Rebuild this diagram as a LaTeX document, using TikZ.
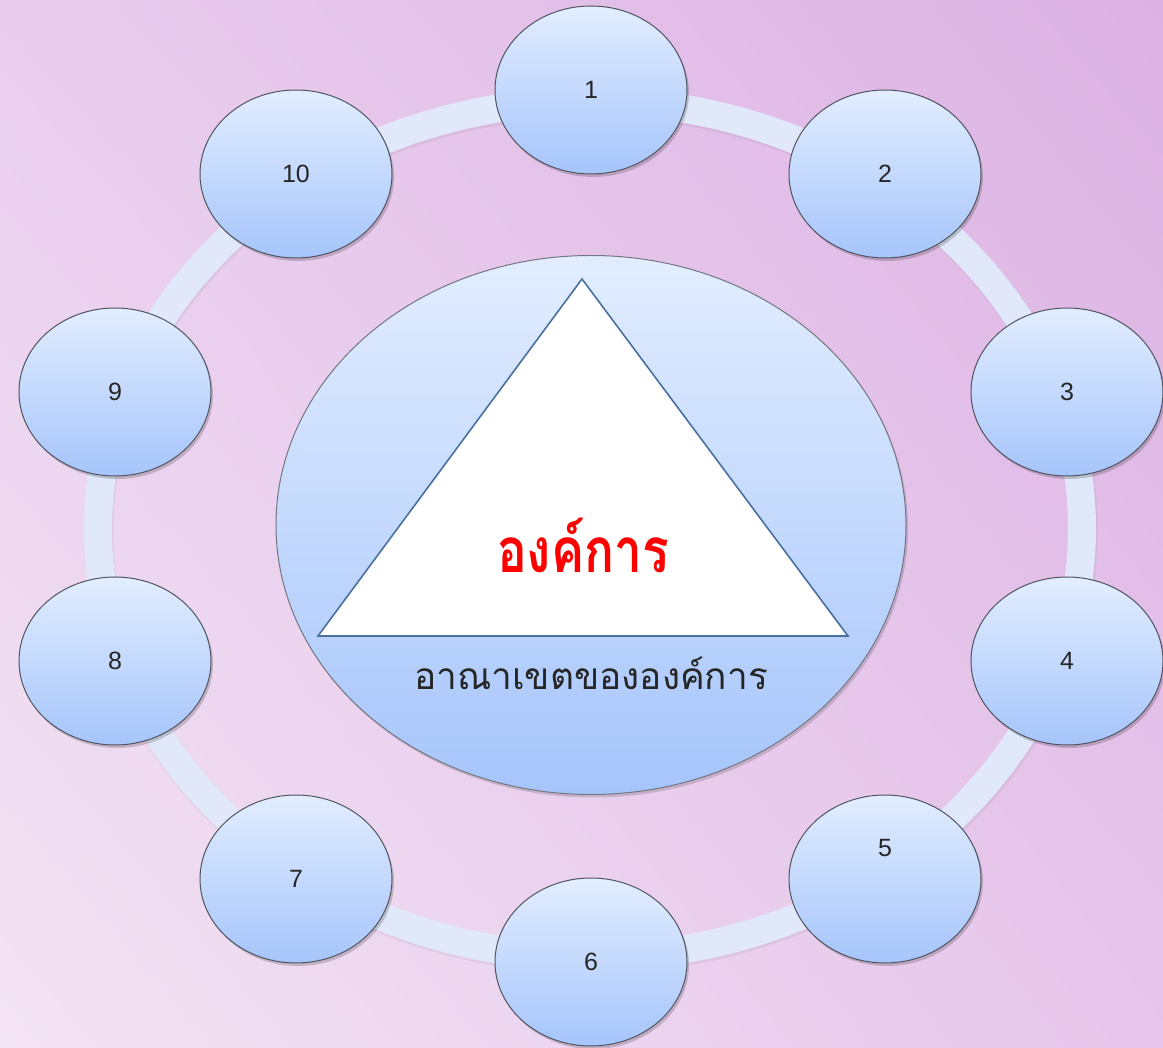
\documentclass[tikz,border=0pt]{standalone}
\usepackage{fontspec}
\setmainfont{Liberation Sans}
\newfontfamily\thaifont[Script=Thai]{Loma}
\usetikzlibrary{shapes.geometric,shadows,shadings}
\definecolor{bgA}{HTML}{F3E4F3}
\definecolor{bgB}{HTML}{E9CDEE}
\definecolor{bgC}{HTML}{E6C6EB}
\definecolor{bgD}{HTML}{DCB2E3}
\definecolor{ringcol}{HTML}{E0E8FA}
\definecolor{nodetop}{HTML}{E2EDFF}
\definecolor{nodebot}{HTML}{A6C5FB}
\definecolor{nodeedge}{HTML}{50545E}
\definecolor{triedge}{HTML}{4A70A0}
\definecolor{titlered}{HTML}{FF0000}
\definecolor{labgray}{HTML}{262626}
\tikzset{
  bubble/.style={ellipse, draw=nodeedge, line width=1pt, minimum width=192pt, minimum height=168pt,
    inner sep=0pt, top color=nodetop, bottom color=nodebot,
    drop shadow={shadow xshift=2pt, shadow yshift=-3pt, opacity=0.18, fill=black},
    font=\fontsize{25}{27}\selectfont, text=labgray},
  hub/.style={ellipse, draw=nodeedge!80, line width=1pt, minimum width=630pt, minimum height=539pt,
    inner sep=0pt, top color=nodetop, bottom color=nodebot,
    drop shadow={shadow xshift=2pt, shadow yshift=-3pt, opacity=0.15, fill=black}},
  ring/.style={draw=ringcol, line width=28pt}
}
\begin{document}
\begin{tikzpicture}[x=1pt,y=-1pt]
\useasboundingbox (0,0) rectangle (1163,1048);
\shade[lower left=bgA, upper left=bgB, lower right=bgC, upper right=bgD] (0,0) rectangle (1163,1048);
% ring
\draw[draw=black, opacity=0.05, line width=29pt] (591,531) ellipse [x radius=492, y radius=428];
\draw[ring] (590,529) ellipse [x radius=492, y radius=428];
% outer bubbles
\node[bubble] (n1) at (591,90) {1};
\node[bubble] (n2) at (885,174) {2};
\node[bubble] (n3) at (1067,392) {3};
\node[bubble] (n4) at (1067,661) {4};
\node[bubble, label={[font=\fontsize{25}{27}\selectfont, text=labgray, yshift=31pt]center:5}] (n5) at (885,879) {};
\node[bubble] (n6) at (591,962) {6};
\node[bubble] (n7) at (296,879) {7};
\node[bubble] (n8) at (115,661) {8};
\node[bubble] (n9) at (115,392) {9};
\node[bubble] (n10) at (296,174) {10};
% hub
\node[hub] (hub) at (591,525) {};
\coordinate (tA) at (582,279);
\coordinate (tB) at (318,636);
\coordinate (tC) at (848,636);
\draw[triedge, line width=1.6pt, fill=white, line join=miter] (tA) -- (tB) -- (tC) -- cycle;
\node[text=titlered, font=\thaifont\bfseries\fontsize{62}{66}\selectfont] (title) at (583,545) {\scalebox{0.8}[1]{องค์การ}};
\node[text=labgray, font=\thaifont\fontsize{37}{40}\selectfont] (domain) at (591,673) {อาณาเขตขององค์การ};
\end{tikzpicture}
\end{document}
